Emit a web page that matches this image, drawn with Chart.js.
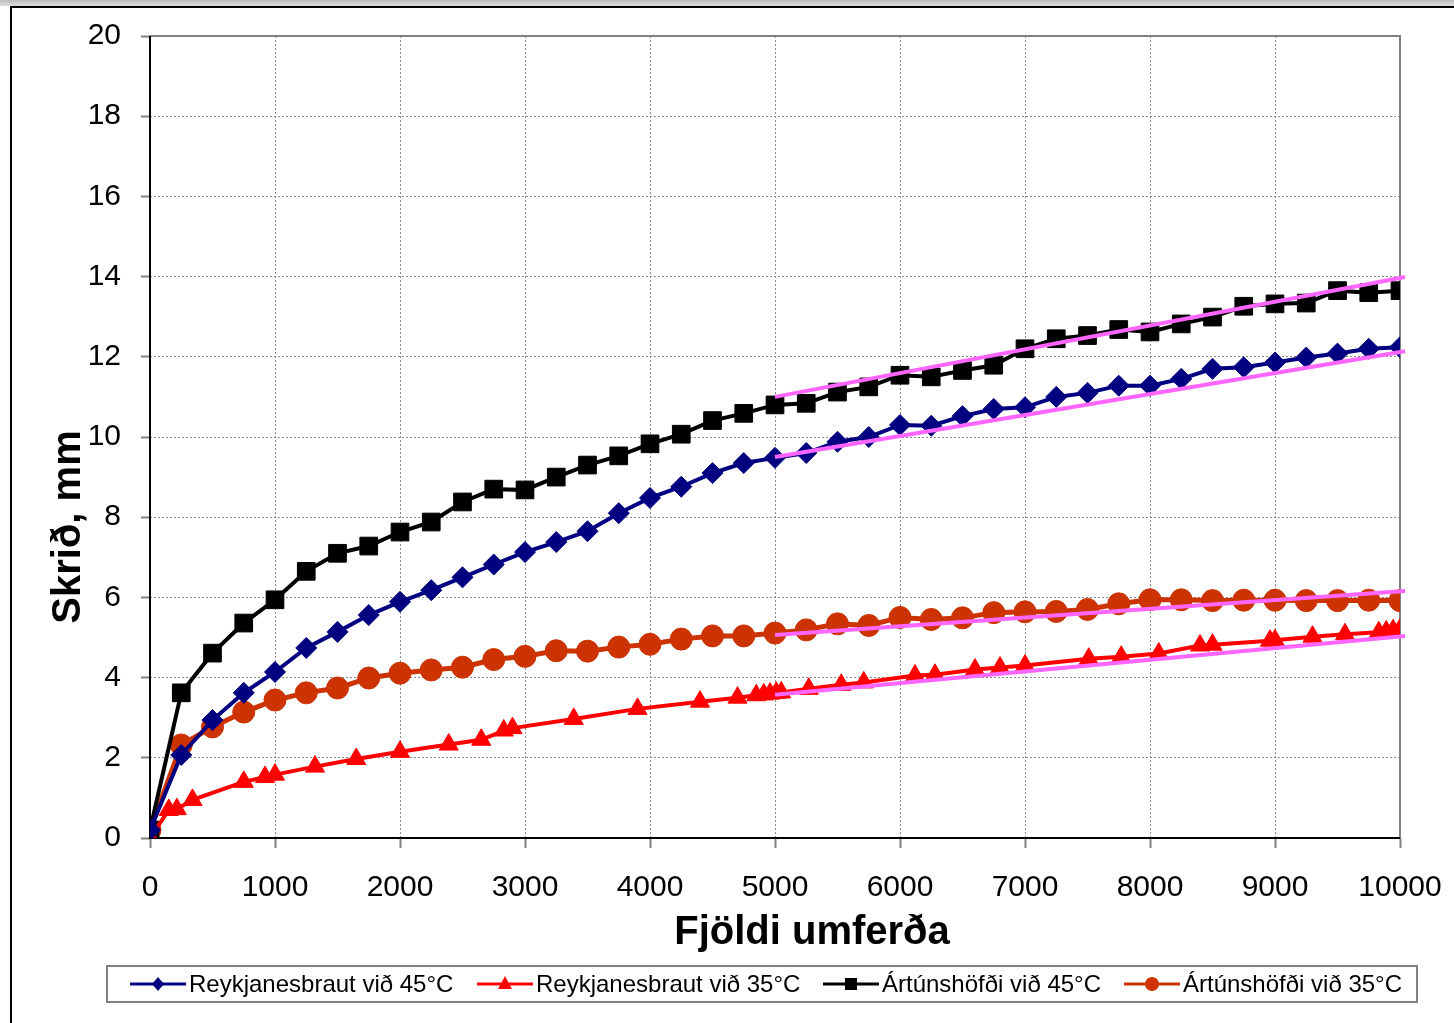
<!DOCTYPE html>
<html><head><meta charset="utf-8">
<script src="https://cdn.jsdelivr.net/npm/chart.js@4"></script>
<style>html,body{margin:0;padding:0;background:#fff;overflow:hidden}#wrap{position:relative;width:1454px;height:1023px}</style>
</head><body><div id="wrap"><canvas id="c" width="1454" height="1023"></canvas></div>
<script>
// ---- data ----
const seriesNames = ['Reykjanesbraut við 45°C','Reykjanesbraut við 35°C','Ártúnshöfði við 45°C','Ártúnshöfði við 35°C'];
const passes = [0,250,500,750,1000,1250,1500,1750,2000,2250,2500,2750,3000,3250,3500,3750,4000,4250,4500,4750,5000,5250,5500,5750,6000,6250,6500,6750,7000,7250,7500,7750,8000,8250,8500,8750,9000,9250,9500,9750,10000];
const reyk45 = [0.2,2.07,2.94,3.62,4.14,4.74,5.14,5.56,5.89,6.18,6.5,6.82,7.13,7.38,7.65,8.1,8.48,8.76,9.1,9.35,9.48,9.6,9.88,10.0,10.3,10.28,10.52,10.7,10.74,11.0,11.1,11.28,11.28,11.45,11.7,11.74,11.86,11.98,12.08,12.2,12.24];
const art45 = [0.2,3.62,4.61,5.36,5.94,6.65,7.1,7.28,7.63,7.88,8.38,8.7,8.68,9.0,9.3,9.53,9.83,10.07,10.41,10.59,10.8,10.84,11.12,11.25,11.54,11.5,11.66,11.79,12.2,12.45,12.53,12.68,12.62,12.82,12.99,13.26,13.32,13.34,13.65,13.6,13.65];
const art35 = [0.2,2.32,2.77,3.14,3.44,3.62,3.74,3.99,4.11,4.19,4.26,4.45,4.53,4.67,4.66,4.76,4.83,4.96,5.04,5.04,5.11,5.19,5.34,5.3,5.5,5.45,5.49,5.62,5.64,5.65,5.7,5.84,5.94,5.94,5.92,5.93,5.93,5.92,5.92,5.93,5.92];
const reyk35X = [0,150,215,340,750,920,1000,1320,1650,2000,2390,2650,2830,2900,3390,3900,4400,4700,4850,4910,4960,5010,5050,5270,5530,5710,6120,6280,6600,6800,7000,7510,7770,8070,8400,8500,8960,9000,9300,9560,9830,9890,9945,10000];
const reyk35 = [0,0.7,0.72,0.95,1.4,1.52,1.58,1.78,1.97,2.15,2.33,2.45,2.68,2.74,2.97,3.22,3.4,3.5,3.56,3.58,3.6,3.62,3.63,3.72,3.82,3.88,4.05,4.07,4.2,4.25,4.3,4.47,4.52,4.6,4.8,4.82,4.92,4.93,5.02,5.08,5.13,5.15,5.18,5.2];
const trendX = [5000,10040];
const trendReyk45 = [9.5,12.14];
const trendReyk35 = [3.57,5.04];
const trendArt45 = [11.0,13.99];
const trendArt35 = [5.06,6.16];
const xTicksMax = 10000, yTicksMax = 20;
const xTitle = 'Fjöldi umferða';
const yTitle = 'Skrið, mm';

const pts = (xs, ys) => xs.map((x,i)=>({x:x,y:ys[i]}));
const FONT = '"Liberation Sans", Arial, sans-serif';
const colors = ['#000080','#FF0000','#000000','#CC3300'];
const styles = ['rectRot','triangle','rect','circle'];

function series(i, data, radius, lw){
  return {label: seriesNames[i], data: data, borderColor: colors[i], backgroundColor: colors[i],
    pointStyle: styles[i], pointRadius: radius, pointBorderWidth: 1, pointBorderColor: colors[i], pointBackgroundColor: colors[i],
    borderWidth: lw, tension: 0, order: 2, showLine: true};
}
function trend(ys){
  return {label: 'trend', data: pts(trendX, ys), borderColor: '#FF66FF', borderWidth: 4, pointRadius: 0, tension: 0, order: 0, clip: false, showLine: true};
}

const W = 1454, H = 1023;
const plugin = {
  id: 'deco',
  beforeDraw(chart){
    const ctx = chart.ctx;
    ctx.save();
    ctx.fillStyle = '#fff'; ctx.fillRect(0,0,W,H);
    const g = ctx.createLinearGradient(0,0,0,6);
    g.addColorStop(0,'#bdbdbd'); g.addColorStop(1,'#dcdcdc');
    ctx.fillStyle = g; ctx.fillRect(0,0,W,6);
    ctx.strokeStyle = '#000'; ctx.lineWidth = 2;
    ctx.beginPath(); ctx.moveTo(11,H); ctx.lineTo(11,7); ctx.lineTo(W,7); ctx.stroke();
    ctx.restore();
  },
  beforeDatasetsDraw(chart){
    const ctx = chart.ctx; const a = chart.chartArea;
    ctx.save();
    ctx.strokeStyle = '#808080'; ctx.lineWidth = 2;
    ctx.beginPath(); ctx.moveTo(a.left, a.top); ctx.lineTo(a.right, a.top); ctx.lineTo(a.right, a.bottom); ctx.stroke();
    ctx.strokeStyle = '#000'; ctx.lineWidth = 2;
    ctx.beginPath(); ctx.moveTo(a.left, a.top); ctx.lineTo(a.left, a.bottom); ctx.lineTo(a.right, a.bottom); ctx.stroke();
    ctx.restore();
  },
  afterDraw(chart){
    const ctx = chart.ctx;
    ctx.save();
    ctx.fillStyle = '#000';
    ctx.font = 'bold 40px ' + FONT;
    ctx.textAlign = 'center'; ctx.textBaseline = 'alphabetic';
    ctx.fillText(xTitle, 812, 944);
    ctx.save(); ctx.translate(80, 527); ctx.rotate(-Math.PI/2); ctx.fillText(yTitle, 0, 0); ctx.restore();
    // legend
    ctx.strokeStyle = '#808080'; ctx.lineWidth = 2;
    ctx.strokeRect(107, 966, 1310, 36);
    const lx = [130, 477, 823, 1124];
    const ly = 984;
    ctx.font = '24px ' + FONT; ctx.textAlign = 'left'; ctx.textBaseline = 'middle';
    for (let i = 0; i < 4; i++){
      const x1 = lx[i], x2 = lx[i] + 56, cx = (x1 + x2)/2;
      ctx.strokeStyle = colors[i]; ctx.fillStyle = colors[i]; ctx.lineWidth = 3;
      ctx.beginPath(); ctx.moveTo(x1, ly); ctx.lineTo(x2, ly); ctx.stroke();
      ctx.beginPath();
      if (styles[i] === 'rectRot'){ ctx.moveTo(cx, ly-7); ctx.lineTo(cx+6, ly); ctx.lineTo(cx, ly+7); ctx.lineTo(cx-6, ly); ctx.closePath(); }
      else if (styles[i] === 'triangle'){ ctx.moveTo(cx, ly-8); ctx.lineTo(cx+7, ly+5); ctx.lineTo(cx-7, ly+5); ctx.closePath(); }
      else if (styles[i] === 'rect'){ ctx.rect(cx-6, ly-6, 12, 12); }
      else { ctx.arc(cx, ly, 7, 0, Math.PI*2); }
      ctx.fill();
      ctx.fillStyle = '#000';
      ctx.fillText(seriesNames[i], x2 + 3, ly + 1);
    }
    ctx.restore();
  }
};

new Chart(document.getElementById('c'), {
  type: 'scatter',
  data: { datasets: [
    trend(trendReyk45), trend(trendReyk35), trend(trendArt45), trend(trendArt35),
    series(0, pts(passes, reyk45), 10.5, 4),
    series(1, pts(reyk35X, reyk35), 11, 4),
    series(2, pts(passes, art45), 12.5, 4),
    series(3, pts(passes, art35), 11, 5)
  ]},
  options: {
    responsive: false, animation: false, devicePixelRatio: 1,
    layout: { padding: { left: 0, top: 36, right: 54, bottom: 125 } },
    plugins: { legend: { display: false }, tooltip: { enabled: false } },
    scales: {
      x: { type: 'linear', min: 0, max: xTicksMax,
        ticks: { stepSize: 1000, color: '#000', font: { family: FONT, size: 30 }, padding: 22, maxRotation: 0,
          callback: (v) => String(v) },
        grid: { color: '#8a8a8a', lineWidth: 1, tickLength: 10, tickColor: '#808080', tickWidth: 2 },
        border: { display: false, dash: [2,2] },
        afterFit(s){ s.height = 60; s.paddingLeft = 0; s.paddingRight = 0; } },
      y: { min: 0, max: yTicksMax,
        ticks: { stepSize: 2, color: '#000', font: { family: FONT, size: 30 }, padding: 20, callback: (v) => String(v) },
        grid: { color: '#8a8a8a', lineWidth: 1, tickLength: 9, tickColor: '#808080', tickWidth: 2 },
        border: { display: false, dash: [2,2] },
        afterFit(s){ s.width = 150; s.paddingTop = 0; s.paddingBottom = 0; } }
    }
  },
  plugins: [plugin]
});
</script></body></html>
